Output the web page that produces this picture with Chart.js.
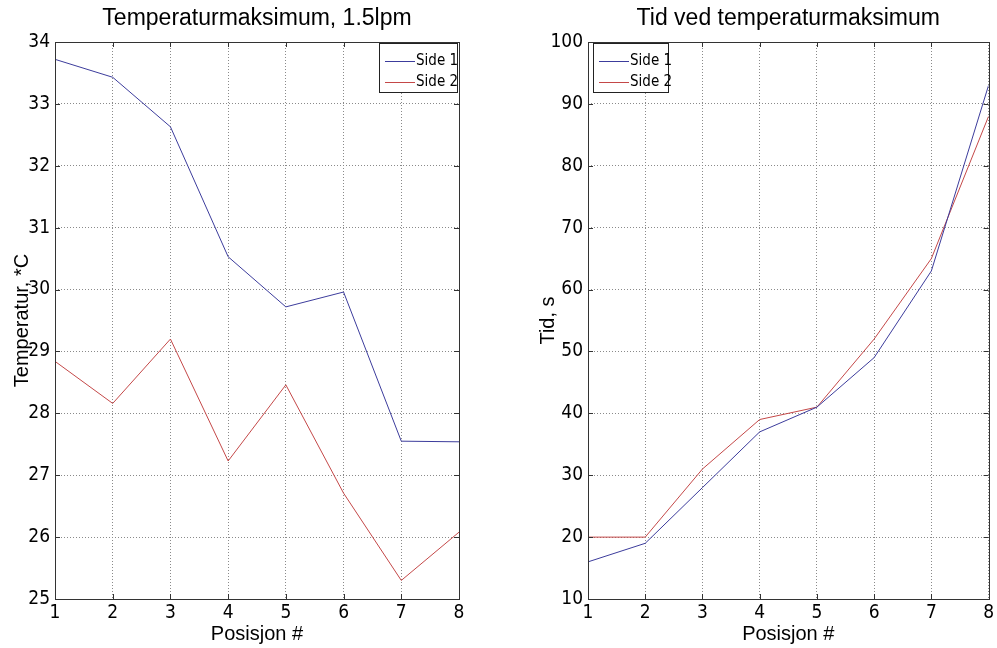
<!DOCTYPE html>
<html>
<head>
<meta charset="utf-8">
<script src="https://cdn.jsdelivr.net/npm/chart.js@4.4.1/dist/chart.umd.min.js"></script>
<style>
  html, body { margin: 0; padding: 0; background: #fff; }
  #wrap { position: relative; width: 997px; height: 648px; }
  .box { position: absolute; top: 0; height: 648px; }
</style>
</head>
<body>
<div id="wrap">
  <div class="box" style="left:0;width:498px"><canvas id="tempChart"></canvas></div>
  <div class="box" style="left:498px;width:499px"><canvas id="timeChart"></canvas></div>
</div>
<script>
// ===== Data =====
const positions = [1, 2, 3, 4, 5, 6, 7, 8];
const tempSide1 = [33.72, 33.43, 32.63, 30.53, 29.72, 29.96, 27.55, 27.54];
const tempSide2 = [28.84, 28.16, 29.2, 27.23, 28.46, 26.71, 25.3, 26.08];
const timeSide1 = [16, 19, 28, 37, 41, 49, 63, 93];
const timeSide2 = [20, 20, 31, 39, 41, 52, 65, 88];
const tempTicks = [25, 26, 27, 28, 29, 30, 31, 32, 33, 34];
const timeTicks = [10, 20, 30, 40, 50, 60, 70, 80, 90, 100];
const seriesLabels = ['Side 1', 'Side 2'];

const BLUE = '#3c3c9c';
const RED = '#c44848';
const narrow = "'Liberation Sans Narrow', 'DejaVu Sans Condensed', sans-serif";
const sans = "'Liberation Sans', Arial, sans-serif";

// ===== Matlab-ish frame, inward ticks, title and boxed legend =====
const matlabAxes = {
  id: 'matlabAxes',
  afterDraw(chart, args, opts) {
    const { ctx, chartArea: a, scales } = chart;
    ctx.save();
    ctx.strokeStyle = '#333';
    ctx.lineWidth = 1;

    ctx.beginPath();
    scales.x.ticks.forEach(t => {
      const px = Math.round(scales.x.getPixelForValue(t.value)) + 0.5;
      ctx.moveTo(px, a.bottom); ctx.lineTo(px, a.bottom - 5);
      ctx.moveTo(px, a.top); ctx.lineTo(px, a.top + 5);
    });
    scales.y.ticks.forEach(t => {
      const py = Math.round(scales.y.getPixelForValue(t.value)) + 0.5;
      ctx.moveTo(a.left, py); ctx.lineTo(a.left + 5, py);
      ctx.moveTo(a.right, py); ctx.lineTo(a.right - 5, py);
    });
    ctx.stroke();
    ctx.strokeRect(Math.round(a.left) + 0.5, Math.round(a.top) + 0.5,
      Math.round(a.right - a.left), Math.round(a.bottom - a.top));

    // title, centred over the plot area
    ctx.fillStyle = '#000';
    ctx.font = '23px ' + sans;
    ctx.textAlign = 'center';
    ctx.textBaseline = 'middle';
    ctx.fillText(opts.title, (a.left + a.right) / 2, 19);

    // legend box
    const w = opts.legendWidth, h = 49;
    const bx = opts.legendSide === 'right' ? Math.round(a.right) - 2 - w : Math.round(a.left) + 5;
    const by = Math.round(a.top) + 1;
    ctx.fillStyle = '#fff';
    ctx.fillRect(bx, by, w, h);
    ctx.strokeStyle = '#222';
    ctx.strokeRect(bx + 0.5, by + 0.5, w, h);
    ctx.font = '15px ' + narrow;
    ctx.textAlign = 'left';
    chart.data.datasets.forEach((ds, i) => {
      const y = by + 18 + i * 21 + 0.5;
      ctx.strokeStyle = ds.borderColor;
      ctx.beginPath();
      ctx.moveTo(bx + 6, y); ctx.lineTo(bx + 36, y);
      ctx.stroke();
      ctx.fillStyle = '#000';
      ctx.fillText(ds.label, bx + 37, y);
    });
    ctx.restore();
  }
};

function toPoints(values) {
  return positions.map((p, i) => ({ x: p, y: values[i] }));
}

function makeChart(id, cfg) {
  const ctx = document.getElementById(id).getContext('2d');
  return new Chart(ctx, {
    type: 'line',
    data: {
      datasets: [
        { label: seriesLabels[0], data: toPoints(cfg.side1), borderColor: BLUE },
        { label: seriesLabels[1], data: toPoints(cfg.side2), borderColor: RED }
      ]
    },
    options: {
      responsive: true,
      maintainAspectRatio: false,
      animation: false,
      elements: {
        line: { borderWidth: 1, tension: 0, fill: false },
        point: { radius: 0, hoverRadius: 0 }
      },
      layout: { padding: { top: 42, right: cfg.rightPad, left: 0, bottom: 0 } },
      plugins: {
        legend: { display: false },
        tooltip: { enabled: false },
        title: { display: false },
        matlabAxes: { title: cfg.title, legendSide: cfg.legendSide, legendWidth: cfg.legendWidth }
      },
      scales: {
        x: {
          type: 'linear',
          min: 1,
          max: 8,
          afterBuildTicks: s => { s.ticks = positions.map(v => ({ value: v })); },
          afterFit: s => { s.height = 49; },
          grid: { color: '#8a8a8a', drawTicks: false },
          border: { display: false, dash: [1, 2] },
          ticks: { color: '#000', padding: 3, font: { size: 19, family: narrow } },
          title: {
            display: true, text: 'Posisjon #', color: '#000',
            font: { size: 20, family: sans }, padding: { top: 0, bottom: 2 }
          }
        },
        y: {
          min: cfg.ticks[0],
          max: cfg.ticks[cfg.ticks.length - 1],
          afterBuildTicks: s => { s.ticks = cfg.ticks.map(v => ({ value: v })); },
          afterFit: s => { s.width = cfg.yWidth; },
          grid: { color: '#8a8a8a', drawTicks: false },
          border: { display: false, dash: [1, 2] },
          ticks: { color: '#000', padding: 5, font: { size: 19, family: narrow } },
          title: {
            display: true, text: cfg.yTitle, color: '#000',
            font: { size: 20, family: sans }, padding: { top: cfg.yTitlePad, bottom: 0 }
          }
        }
      }
    },
    plugins: [matlabAxes]
  });
}

makeChart('tempChart', {
  title: 'Temperaturmaksimum, 1.5lpm',
  yTitle: 'Temperatur, *C',
  side1: tempSide1,
  side2: tempSide2,
  ticks: tempTicks,
  yWidth: 55,
  yTitlePad: 10,
  rightPad: 39,
  legendSide: 'right',
  legendWidth: 78
});

makeChart('timeChart', {
  title: 'Tid ved temperaturmaksimum',
  yTitle: 'Tid, s',
  side1: timeSide1,
  side2: timeSide2,
  ticks: timeTicks,
  yWidth: 90,
  yTitlePad: 38,
  rightPad: 5,
  legendSide: 'left',
  legendWidth: 75
});
</script>
</body>
</html>
